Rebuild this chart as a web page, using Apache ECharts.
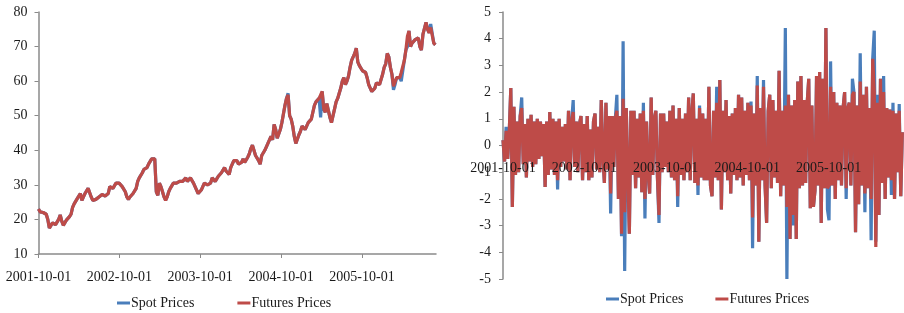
<!DOCTYPE html>
<html>
<head>
<meta charset="utf-8">
<script src="https://cdn.jsdelivr.net/npm/echarts@6/dist/echarts.min.js"></script>
<style>
html,body{margin:0;padding:0;background:#fff;}
#c{width:904px;height:313px;}
</style>
</head>
<body>
<div id="c"></div>
<script>
// ---- Data ----
const seriesNames = ['Spot Prices', 'Futures Prices'];
const tickLabels = ['2001-10-01', '2002-10-01', '2003-10-01', '2004-10-01', '2005-10-01'];
const axisStart = '2001-10-01';
const axisEnd = '2006-08-31';
const stepDays = 7;   // both panels sampled weekly from 2001-10-01

const futuresPrices = [23,22.2,22.5,22,22,21.5,20,17.5,17.8,19,
 19.5,18.5,18.8,20,21.3,19.5,18.3,18.5,19.8,20.2,
 20.8,21.5,23.5,24.5,25,26,26.5,27.5,25.5,26.5,
 27.5,28,29,29.5,26.5,25.5,25,25.8,26.2,26.5,
 26.8,27.2,27,26.8,27,27.5,29.5,30,29,29.5,
 30.5,31,30.5,30,29.5,29,28,26.5,25.8,26.5,
 27,27.5,27.8,29,31,32,32.5,33.5,34.5,35,
 35,36,36.5,37.5,37.5,37.5,28,27,30.5,29.5,
 28,26.5,25.5,26.5,28,29,29.5,30.5,31,30.5,
 30,31,31.5,31,31.5,32,31,31.5,32,31.5,
 30.5,29.5,28.5,27.5,27.5,28.5,29.5,30.5,31,30,
 29.5,30.5,32,32.5,31,30.5,32.5,33,33.5,33,
 35,34,34,33,35,35.5,37,37.5,37,36,
 35.5,36.5,37.5,36.5,37,38,39,40.5,41.5,42,
 38.5,38,37,36,38.5,39,40,41,42,43,
 44,43,47.5,46,43.5,44,46,48,50.5,53,
 55,56,50,49,47,44,42,41.5,44.5,45.5,
 47,46.5,46,47,48,47.5,49,51,53,54,
 54.5,55,56,57,52,51,53.5,54,49.5,48,
 50,52,54,55,56.5,58,60,61,59,60,
 61.5,64,66,67,68,69.5,65.5,64.5,64,63,
 63.5,62.5,61,59,58,57,57,58,59.5,60,
 59,58.5,62,64,65,68,67,64,62,58.5,
 59,61,61.5,61,62.5,63,66,69,73,74.5,
 70,71,71.5,72,71.5,72.5,70,69,73.5,74,
 77,75,74,75.5,76,71,70.5];

const spotPrices = [23,22.2,22.5,22,22,21.5,20,17.5,17.8,19,
 19.5,18.5,18.8,20,21.3,19.5,18.3,18.5,19.8,20.2,
 20.8,21.5,23.5,24.5,25,26,26.5,27.5,25.5,26.5,
 27.5,28,29,29.5,26.5,25.5,25,25.8,26.2,26.5,
 26.8,27.2,27,26.8,27,27.5,29.5,30,29,29.5,
 30.5,31,30.5,30,29.5,29,28,26.5,25.8,26.5,
 27,27.5,27.8,29,31,32,32.5,33.5,34.5,35,
 35,36,36.5,37.5,38,37.5,28,27,30.5,29.5,
 28,26.5,25.5,26.5,28,29,29.5,30.5,31,30.5,
 30,31,31.5,31,31.5,32,31,31.5,32,31.5,
 30.5,29.5,28.5,27.5,27.5,28.5,29.5,30.5,31,30,
 29.5,30.5,32,32.5,31,30.5,32.5,33,33.5,33,
 35,34,34,33,35,35.5,37,37.5,37,36,
 35.5,36.5,37.5,36.5,37,38,39,40.5,41.5,42,
 38.5,38,37,36,38.5,39,40,41,42,43,
 44,43,47.5,46,43.5,44,46,48,50.5,53,
 55,56.5,50,49,47,44,42,41.5,44.5,45.5,
 47,46.5,46,47,48,47.5,49,51,53,54,
 54.5,55,49.5,57,52,51,53.5,54,49.5,48,
 50,52,54,55,56.5,58,60,61,59,60,
 61.5,64,66,67,68,69.5,65.5,64.5,64,63,
 63.5,62.5,61,59,58,57,57,58,59.5,60,
 59,58.5,62,64,65,68,67,64,62,57.5,
 59,61,61.5,61,60,63,66,69,70,74.5,
 70,71,71.5,72,71.5,72.5,70,69,73.5,74,
 77,75,74,76.5,76,71,70.5];

const futuresReturns = [0.2,-0.6,0.55,-0.5,0.5,2.15,-2.3,1.45,-1.1,0.9,
 -1.0,1.1,1.4,-0.7,0.8,-1.2,1.0,-0.6,1.15,-0.8,
 0.9,-0.7,1.0,-0.5,0.9,-0.4,0.8,-1.55,0.9,-1.1,
 1.25,-0.9,1.0,-1.1,0.9,-1.3,1.0,-0.8,0.7,-0.6,
 0.8,-0.9,1.3,-1.3,0.9,1.25,-0.8,0.9,-1.0,0.8,
 1.1,-1.3,0.8,-1.0,1.1,-1.3,0.6,-1.2,0.9,1.2,
 -0.9,0.7,-1.0,1.7,-0.4,-1.4,1.6,-0.9,1.1,-1.8,
 1.1,-0.8,1.0,1.3,-2.0,1.1,-3.3,1.75,-2.5,1.4,
 1.4,-3.3,1.3,-1.1,1.3,-1.6,1.0,-1.2,1.2,-1.75,
 1.3,-2.0,0.9,-1.0,-1.8,1.8,-1.1,1.0,1.3,-1.2,
 -2.6,1.2,-1.0,1.2,-0.8,0.9,-1.0,1.3,-1.2,1.5,
 -1.3,1.0,-1.9,1.4,-1.1,1.0,-1.3,1.2,-1.0,1.8,
 -1.3,1.2,1.95,-1.4,1.0,-1.5,1.4,-1.2,1.2,-1.3,
 1.0,-1.3,2.2,-1.5,-1.9,1.3,-1.2,1.6,-1.3,2.45,
 -2.4,1.3,-1.0,1.7,-1.3,1.1,-1.8,1.2,-1.1,1.4,
 -1.3,1.9,-1.2,1.8,-1.5,1.3,-1.1,1.6,-1.3,1.5,
 -2.7,1.2,-1.5,2.25,-3.6,1.4,-1.3,2.2,-1.5,-2.9,
 1.3,1.9,-1.6,1.7,-1.2,1.3,-1.4,2.8,-1.9,1.3,
 -1.5,1.5,-2.3,1.9,-3.5,1.5,-2.6,1.7,-3.5,2.4,
 -1.6,2.6,-1.5,1.7,-1.4,1.6,2.5,-2.35,1.5,-2.3,
 -1.7,2.6,-1.5,2.75,-2.9,2.5,-1.6,4.4,-1.6,-1.5,
 2.2,-1.5,2.0,-2.0,1.6,-1.3,1.5,-1.5,1.4,2.0,
 -1.6,1.4,1.6,-1.5,1.9,2.0,-3.25,1.5,-2.2,2.4,
 -1.5,1.9,-1.8,2.2,-1.6,1.4,-2.0,3.25,2.0,-3.8,
 1.6,-2.6,2.5,-1.4,2.0,-2.0,1.4,-1.2,1.35,-1.3,
 1.3,-2.0,1.2,-1.0,1.3,-1.9,0.5];

const spotReturns = [0.2,-0.6,0.7,-0.5,0.5,2.15,-2.3,1.45,-1.1,0.9,
 -1.0,1.1,1.8,-0.7,0.8,-1.2,1.0,-0.6,1.15,-0.8,
 0.9,-0.7,1.0,-0.5,0.9,-0.4,0.8,-1.55,0.9,-1.1,
 1.25,-0.9,1.0,-1.1,0.9,-1.65,1.0,-0.8,0.7,-0.6,
 0.8,-0.9,1.3,-1.3,0.9,1.7,-0.8,0.9,-1.0,0.8,
 1.1,-1.3,0.8,-1.0,1.1,-1.3,0.6,-1.2,0.9,1.2,
 -0.9,0.7,-1.0,1.7,-0.4,-1.4,1.6,-0.9,1.1,-2.55,
 1.1,-0.8,1.0,1.9,-2.0,1.1,-3.4,3.9,-4.7,1.4,
 1.4,-3.3,1.3,-1.1,1.3,-1.6,1.0,-1.2,1.2,-1.75,
 1.6,-2.73,0.9,-1.0,-1.8,1.8,-1.1,1.0,1.3,-1.2,
 -2.9,1.2,-1.0,1.2,-0.8,0.9,-1.0,1.3,-1.2,1.5,
 -1.3,1.0,-2.3,1.4,-1.1,1.0,-1.3,1.2,-1.0,1.8,
 -1.3,1.2,1.95,-1.4,1.0,-1.85,1.5,-1.2,1.2,-1.3,
 1.0,-1.3,2.2,-1.5,-1.9,1.3,-1.2,2.2,-1.3,2.45,
 -2.4,1.3,-1.0,1.7,-1.3,1.1,-1.8,1.2,-1.1,1.4,
 -1.3,1.9,-1.2,1.8,-1.5,1.3,-1.1,1.6,-1.3,1.65,
 -3.85,1.2,-1.5,2.6,-3.6,1.4,-1.3,2.45,-1.5,-2.9,
 1.3,1.9,-1.6,1.7,-1.2,1.3,-1.4,2.8,-1.9,1.3,
 -1.5,4.4,-5.0,1.9,-3.5,1.5,-3.0,1.7,-3.5,2.4,
 -1.6,2.6,-1.5,1.7,-1.4,1.6,2.5,-2.35,1.5,-2.3,
 -1.7,2.6,-1.5,2.75,-2.9,2.5,-1.6,4.4,-2.4,-2.8,
 3.15,-1.5,2.0,-2.0,1.6,-1.3,1.5,-1.5,1.4,2.0,
 -2.0,1.4,1.6,-1.5,2.5,2.0,-3.25,1.5,-2.2,3.45,
 -1.5,1.9,-2.5,2.2,-1.6,1.4,-3.55,3.25,4.3,-3.6,
 1.9,-2.6,2.5,-1.4,2.6,-2.0,1.4,-1.2,1.35,-1.85,
 1.6,-2.0,1.2,-1.0,1.55,-1.9,0.5];

// ---- Helpers ----
function ts(str, addDays) {
  const p = str.split('-').map(Number);
  return new Date(p[0], p[1] - 1, p[2] + (addDays || 0)).getTime();
}
function pairs(values, step) {
  return values.map((v, k) => [ts(axisStart, k * step), v]);
}
const tickValues = tickLabels.map(s => ts(s));
const BLUE = '#4a7ebb', RED = '#be4b48', AX = '#8a8a8a', TXT = '#1a1a1a';
const FONT = 'Liberation Serif';

function fmtDate(v) {
  const d = new Date(v); const m = d.getMonth() + 1, dd = d.getDate();
  return d.getFullYear() + '-' + (m < 10 ? '0' : '') + m + '-' + (dd < 10 ? '0' : '') + dd;
}
function xAxisCfg(gridIndex, labelMargin, showLine, offset, z) {
  return {
    type: 'value', gridIndex, scale: true, offset, z,
    min: ts(axisStart), max: ts(axisEnd),
    splitLine: { show: false },
    axisLine: { show: showLine, onZero: false, lineStyle: { color: AX, width: 1.5 } },
    axisTick: { show: showLine, customValues: tickValues, length: 4, lineStyle: { color: AX } },
    axisLabel: {
      customValues: tickValues, margin: labelMargin, hideOverlap: false,
      fontFamily: FONT, fontSize: 14, color: TXT,
      formatter: fmtDate
    }
  };
}
function yAxisCfg(gridIndex, min, max, interval, margin) {
  return {
    type: 'value', gridIndex, min, max, interval,
    splitLine: { show: false },
    axisLine: { show: true, onZero: false, lineStyle: { color: AX, width: 1.5 } },
    axisTick: { show: true, length: 4, lineStyle: { color: AX } },
    axisLabel: { margin, fontFamily: FONT, fontSize: 14, color: TXT }
  };
}
function lineSeries(name, data, idx, color, width) {
  return {
    name, type: 'line', xAxisIndex: idx, yAxisIndex: idx, data,
    showSymbol: false, symbol: 'none', color,
    lineStyle: { color, width }, silent: true, z: name === seriesNames[1] ? 3 : 2
  };
}
function legendCfg(left, top, gap) {
  return {
    left, top, padding: 0, itemWidth: 13, itemHeight: 3, itemGap: gap, icon: 'rect',
    data: seriesNames,
    textStyle: { fontFamily: FONT, fontSize: 14, color: TXT, padding: [0, 0, 0, -4] }
  };
}

const chart = echarts.init(document.getElementById('c'), null, { renderer: 'canvas' });
chart.setOption({
  animation: false,
  backgroundColor: '#fff',
  grid: [
    { left: 38.5, top: 12, width: 397.5, height: 242 },
    { left: 503, top: 12, width: 400, height: 267 }
  ],
  legend: [legendCfg(117, 296, 43), legendCfg(606, 292, 32)],
  xAxis: [xAxisCfg(0, 16, true, 0, 0), xAxisCfg(1, 16, false, -133.5, 10)],
  yAxis: [yAxisCfg(0, 10, 80, 10, 11), yAxisCfg(1, -5, 5, 1, 12)],
  series: [
    lineSeries(seriesNames[0], pairs(spotPrices, stepDays), 0, BLUE, 3.2),
    lineSeries(seriesNames[1], pairs(futuresPrices, stepDays), 0, RED, 3.2),
    lineSeries(seriesNames[0], pairs(spotReturns, stepDays), 1, BLUE, 3.2),
    lineSeries(seriesNames[1], pairs(futuresReturns, stepDays), 1, RED, 3.2)
  ]
});
</script>
</body>
</html>
